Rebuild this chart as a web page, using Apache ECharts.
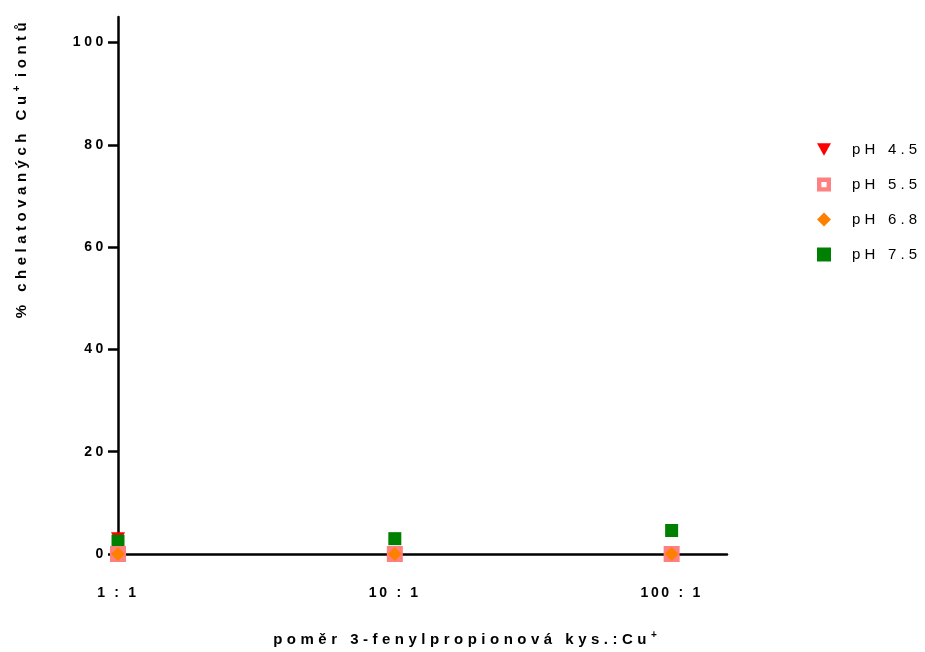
<!DOCTYPE html>
<html><head><meta charset="utf-8">
<script src="https://cdn.jsdelivr.net/npm/echarts@6/dist/echarts.min.js"></script>
<style>html,body{margin:0;padding:0;background:#fff}#c{width:925px;height:652px}</style>
</head><body><div id="c"></div>
<script>
const categories = ['1 : 1', '10 : 1', '100 : 1'];
const yTicks = [0, 20, 40, 60, 80, 100];
const pH45 = [3.0, 0, 0];
const pH55 = [0, 0, 0];
const pH68 = [0, 0, 0];
const pH75 = [2.5, 3.0, 4.6];
const seriesNames = ['pH 4.5', 'pH 5.5', 'pH 6.8', 'pH 7.5'];

const toPts = arr => arr.map((v, i) => [i, v]);
const FONT = 'Liberation Sans, Arial, sans-serif';
// letter-spaced rich text: each character is its own rich token
const spaced = (txt, st) => Array.from(txt).map(c => '{' + st + '|' + c + '}').join('');
const richStyle = (size, weight, ls) => ({fontFamily: FONT, fontWeight: weight, fontSize: size, color: '#000', fill: '#000', padding: [0, ls, 0, 0]});
const supStyle = {fontFamily: FONT, fontWeight: 'bold', fontSize: 10, color: '#000', fill: '#000', verticalAlign: 'top', padding: [0, 0, 9, 0]};

const triDown = 'path://M0,0 L10,0 L5,9 Z';
const hollowSq = 'path://M0,0 H16 V16 H0 Z M5,5 V11 H11 V5 Z';
const colors = ['#FF0000', '#FF8080', '#FF8000', '#008000'];

const chart = echarts.init(document.getElementById('c'), null, {renderer: 'canvas'});
chart.setOption({
  animation: false,
  backgroundColor: '#fff',
  grid: {left: 118, right: 198, top: 17, bottom: 98, containLabel: false},
  xAxis: {
    type: 'value', min: 0, max: 2.2, interval: 1,
    axisLine: {show: true, onZero: false, lineStyle: {color: '#000', width: 2.5}},
    axisTick: {show: false},
    splitLine: {show: false},
    axisLabel: {
      margin: 32, showMaxLabel: false,
      formatter: v => categories[v] !== undefined ? spaced(categories[v], 't') : '',
      rich: {t: richStyle(14, 'bold', 2.7)}
    }
  },
  yAxis: {
    type: 'value', min: 0, max: 105, interval: 20,
    axisLine: {show: true, onZero: false, lineStyle: {color: '#000', width: 2.5}},
    axisTick: {show: true, length: 10, lineStyle: {color: '#000', width: 2.5}, customValues: yTicks},
    splitLine: {show: false},
    axisLabel: {
      margin: 11, customValues: yTicks,
      formatter: v => yTicks.indexOf(v) >= 0 ? spaced(String(v), 't') : '',
      rich: {t: richStyle(14, 'bold', 3.6)}
    }
  },
  legend: {
    orient: 'vertical', left: 812, top: 137, itemGap: 20,
    itemWidth: 14, itemHeight: 14,
    formatter: name => spaced(name, 'l'),
    textStyle: {padding: [0, 0, 0, 16], rich: {l: richStyle(15, 'normal', 4.2)}},
    data: [
      {name: seriesNames[0]},
      {name: seriesNames[1], icon: hollowSq, itemStyle: {color: colors[1], borderWidth: 0}},
      {name: seriesNames[2], itemWidth: 11, itemHeight: 11},
      {name: seriesNames[3]}
    ]
  },
  series: [
    {name: seriesNames[0], type: 'scatter', data: toPts(pH45), symbol: triDown,
      symbolSize: [14, 13], z: 2, itemStyle: {color: colors[0], opacity: 1}},
    {name: seriesNames[1], type: 'scatter', data: toPts(pH55), symbol: 'rect',
      symbolSize: 11, z: 4, itemStyle: {color: '#FFFFFF', borderColor: colors[1], borderWidth: 5, opacity: 1}},
    {name: seriesNames[2], type: 'scatter', data: toPts(pH68), symbol: 'diamond',
      symbolSize: 14, z: 5, itemStyle: {color: colors[2], opacity: 1}},
    {name: seriesNames[3], type: 'scatter', data: toPts(pH75), symbol: 'rect',
      symbolSize: 13, z: 3, itemStyle: {color: colors[3], opacity: 1}}
  ],
  graphic: [
    {type: 'text', x: 22, y: 168, rotation: Math.PI / 2,
      style: {text: spaced('% chelatovaných Cu', 'n') + '{s|+}' + spaced(' iontů', 'n'),
        align: 'center', verticalAlign: 'middle',
        rich: {n: richStyle(15, 'bold', 4.5), s: supStyle}}},
    {type: 'text', x: 465, y: 640,
      style: {text: spaced('poměr 3-fenylpropionová kys.:Cu', 'n') + '{s|+}',
        align: 'center', verticalAlign: 'middle',
        rich: {n: richStyle(15, 'bold', 4.5), s: supStyle}}}
  ]
});
</script></body></html>
